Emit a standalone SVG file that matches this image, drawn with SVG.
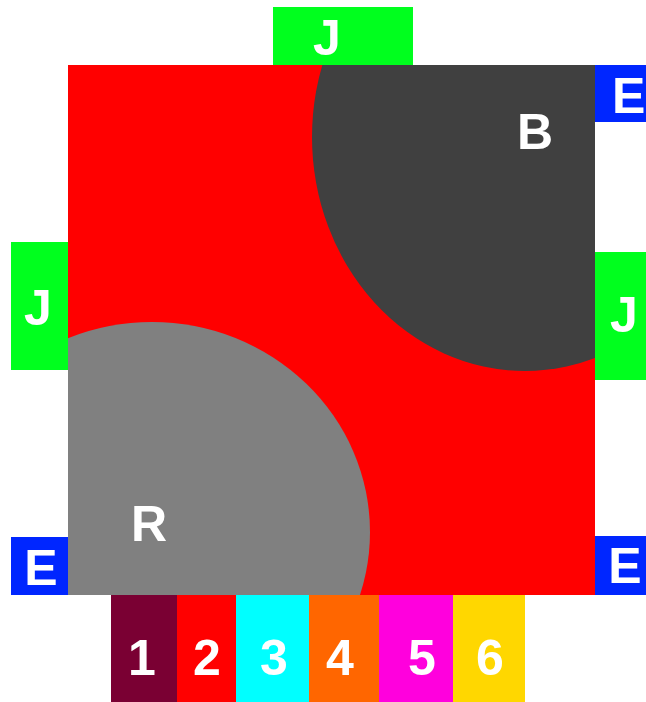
<svg xmlns="http://www.w3.org/2000/svg" width="646" height="702" viewBox="0 0 646 702">
<style>
.t{font-family:"Liberation Sans",Arial,sans-serif;font-weight:bold;font-size:50px;fill:#ffffff;text-anchor:middle}
.g{fill:#00ff1e}
.b{fill:#0026ff}
</style>
<defs>
<clipPath id="sq"><rect x="68" y="65" width="527" height="530"/></clipPath>
</defs>
<rect width="646" height="702" fill="#ffffff"/>
<g id="square">
<rect x="68" y="65" width="527" height="530" fill="#ff0000"/>
<g clip-path="url(#sq)">
<ellipse id="circleB" cx="525" cy="137" rx="213" ry="234" fill="#404040"/>
<ellipse id="circleR" cx="152" cy="532" rx="218" ry="210" fill="#808080"/>
</g>
<text class="t" x="535" y="149">B</text>
<text class="t" x="149" y="541">R</text>
</g>
<g id="J-top"><rect class="g" x="273" y="7" width="140" height="58"/><text class="t" x="327" y="55">J</text></g>
<g id="J-left"><rect class="g" x="11" y="242" width="57" height="128"/><text class="t" x="38" y="325">J</text></g>
<g id="J-right"><rect class="g" x="595" y="252" width="51" height="128"/><text class="t" x="624" y="332">J</text></g>
<g id="E-topright"><rect class="b" x="595" y="65" width="51" height="57"/><text class="t" x="612" y="113" style="text-anchor:start">E</text></g>
<g id="E-bottomleft"><rect class="b" x="11" y="537" width="57" height="58"/><text class="t" x="41" y="585">E</text></g>
<g id="E-bottomright"><rect class="b" x="595" y="536" width="51" height="59"/><text class="t" x="625" y="583">E</text></g>
<g id="bar1"><rect x="111" y="595" width="66" height="107" fill="#7a0033"/><text class="t" x="142" y="675">1</text></g>
<g id="bar2"><rect x="177" y="595" width="59" height="107" fill="#ff0000"/><text class="t" x="207" y="675">2</text></g>
<g id="bar3"><rect x="236" y="595" width="73" height="107" fill="#00ffff"/><text class="t" x="274" y="675">3</text></g>
<g id="bar4"><rect x="309" y="595" width="70" height="107" fill="#ff6600"/><text class="t" x="340" y="675">4</text></g>
<g id="bar5"><rect x="379" y="595" width="74" height="107" fill="#ff00dd"/><text class="t" x="422" y="675">5</text></g>
<g id="bar6"><rect x="453" y="595" width="72" height="107" fill="#ffd700"/><text class="t" x="490" y="675">6</text></g>
<g id="connectors"/>
</svg>
